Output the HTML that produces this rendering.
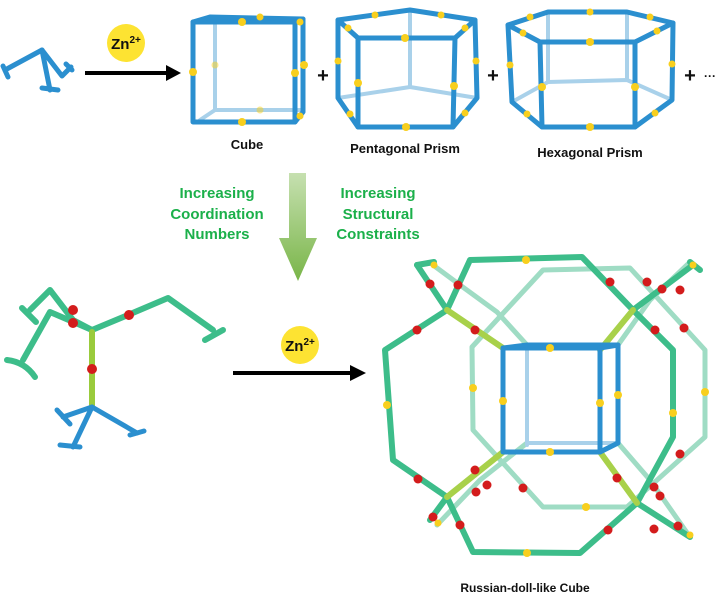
<!DOCTYPE html>
<html><head><meta charset="utf-8"><style>
body{margin:0;background:#fff;width:727px;height:603px;overflow:hidden}
svg{display:block}
text{font-family:"Liberation Sans",Arial,sans-serif;font-weight:bold}
</style></head><body>
<svg width="727" height="603" viewBox="0 0 727 603" xmlns="http://www.w3.org/2000/svg">
<defs>
<linearGradient id="ga" x1="0" y1="0" x2="0" y2="1"><stop offset="0" stop-color="#c6e0b0"/><stop offset="1" stop-color="#79b548"/></linearGradient>
</defs>
<g stroke="#2b8fcf" stroke-width="5" fill="none" stroke-linecap="round" stroke-linejoin="round">
<polyline points="5,70 42,50 50,90"/><polyline points="42,50 62,76 71,67"/>
<line x1="3" y1="66" x2="8" y2="77"/><line x1="42" y1="88" x2="58" y2="90"/><line x1="66" y1="64" x2="72" y2="70"/>
</g>
<circle cx="126" cy="43" r="19" fill="#fde332"/>
<text x="126" y="49" font-size="15" text-anchor="middle" fill="#111">Zn<tspan font-size="10" dy="-6">2+</tspan></text>
<line x1="85" y1="73" x2="168" y2="73" stroke="#000" stroke-width="4"/>
<polygon points="166,65 181,73 166,81" fill="#000"/>
<g fill="none" stroke-linecap="round" stroke-linejoin="round">
<g stroke="#a9d1ea" stroke-width="4"><polyline points="215,25 215,110 303,110"/><line x1="215" y1="110" x2="200" y2="120"/></g>
<g stroke="#2b8fcf" stroke-width="5"><rect x="193" y="22" width="102" height="100"/><polyline points="193,22 210,17 303,19 303,112 295,122"/><line x1="295" y1="22" x2="303" y2="19"/></g>
</g>
<g fill="#f8cf1e"><circle cx="242" cy="22" r="4"/><circle cx="260" cy="17" r="3.5"/><circle cx="193" cy="72" r="4"/><circle cx="295" cy="73" r="4"/><circle cx="304" cy="65" r="4"/><circle cx="242" cy="122" r="4"/><circle cx="300" cy="22" r="3.5"/><circle cx="300" cy="116" r="3.5"/><circle cx="215" cy="65" r="3.5" opacity=".5"/><circle cx="260" cy="110" r="3.5" opacity=".5"/></g>
<text x="247" y="149" font-size="13" text-anchor="middle" fill="#111">Cube</text>
<text x="323" y="82" font-size="20" text-anchor="middle" fill="#111">+</text>
<g fill="none" stroke-linecap="round" stroke-linejoin="round">
<g stroke="#a9d1ea" stroke-width="4"><polyline points="338,98 410,87 477,98"/><line x1="410" y1="10" x2="410" y2="87"/></g>
<g stroke="#2b8fcf" stroke-width="5"><polygon points="338,20 410,10 475,20 455,38 358,38"/><polyline points="338,20 338,98 358,127 453,127 477,98 475,20"/><line x1="358" y1="38" x2="358" y2="127"/><line x1="455" y1="38" x2="453" y2="127"/></g>
</g>
<g fill="#f8cf1e"><circle cx="375" cy="15" r="3.5"/><circle cx="441" cy="15" r="3.5"/><circle cx="405" cy="38" r="4"/><circle cx="348" cy="28" r="3.5"/><circle cx="465" cy="28" r="3.5"/><circle cx="338" cy="61" r="3.5"/><circle cx="476" cy="61" r="3.5"/><circle cx="358" cy="83" r="4"/><circle cx="454" cy="86" r="4"/><circle cx="406" cy="127" r="4"/><circle cx="350" cy="114" r="3.5"/><circle cx="465" cy="113" r="3.5"/></g>
<text x="405" y="153" font-size="13" text-anchor="middle" fill="#111">Pentagonal Prism</text>
<text x="493" y="82" font-size="20" text-anchor="middle" fill="#111">+</text>
<g fill="none" stroke-linecap="round" stroke-linejoin="round">
<g stroke="#a9d1ea" stroke-width="4"><polyline points="512,102 548,82 627,80 672,100"/><line x1="548" y1="12" x2="548" y2="82"/><line x1="627" y1="12" x2="627" y2="80"/></g>
<g stroke="#2b8fcf" stroke-width="5"><polygon points="508,25 548,12 627,12 673,23 635,42 540,42"/><polyline points="508,25 512,102 542,127 635,127 672,100 673,23"/><line x1="540" y1="42" x2="542" y2="127"/><line x1="635" y1="42" x2="635" y2="127"/></g>
</g>
<g fill="#f8cf1e"><circle cx="590" cy="12" r="3.5"/><circle cx="530" cy="17" r="3.5"/><circle cx="650" cy="17" r="3.5"/><circle cx="590" cy="42" r="4"/><circle cx="523" cy="33" r="3.5"/><circle cx="657" cy="31" r="3.5"/><circle cx="510" cy="65" r="3.5"/><circle cx="672" cy="64" r="3.5"/><circle cx="542" cy="87" r="4"/><circle cx="635" cy="87" r="4"/><circle cx="590" cy="127" r="4"/><circle cx="527" cy="114" r="3.5"/><circle cx="655" cy="113" r="3.5"/></g>
<text x="590" y="157" font-size="13" text-anchor="middle" fill="#111">Hexagonal Prism</text>
<text x="690" y="82" font-size="20" text-anchor="middle" fill="#111">+</text>
<text x="710" y="80" font-size="12" text-anchor="middle" fill="#111">···</text>
<g font-size="15" fill="#1bb04a" text-anchor="middle">
<text x="217" y="198">Increasing</text><text x="217" y="219">Coordination</text><text x="217" y="239">Numbers</text>
<text x="378" y="198">Increasing</text><text x="378" y="219">Structural</text><text x="378" y="239">Constraints</text>
</g>
<polygon points="289,173 306,173 306,238 317,238 298,281 279,238 289,238" fill="url(#ga)"/>
<g fill="none" stroke-linecap="round" stroke-linejoin="round">
<g stroke="#3dbd8a" stroke-width="6">
<polyline points="92,330 73,320 50,290 30,310"/><line x1="22" y1="308" x2="36" y2="322"/>
<polyline points="92,330 50,312 23,360"/><path d="M7,360 Q25,362 35,377"/>
<polyline points="92,330 128,315 168,298 213,330"/><line x1="205" y1="340" x2="223" y2="330"/>
</g>
<line x1="92" y1="332" x2="92" y2="407" stroke="#9acb3c" stroke-width="6"/>
<g stroke="#2b8fcf" stroke-width="5"><polyline points="92,407 63,417"/><line x1="57" y1="410" x2="70" y2="424"/><polyline points="92,407 73,447"/><line x1="60" y1="445" x2="80" y2="447"/><polyline points="92,407 137,433"/><line x1="130" y1="435" x2="144" y2="431"/></g>
</g>
<g fill="#d31c1c"><circle cx="73" cy="310" r="5"/><circle cx="73" cy="323" r="5"/><circle cx="129" cy="315" r="5"/><circle cx="92" cy="369" r="5"/></g>
<circle cx="300" cy="345" r="19" fill="#fde332"/>
<text x="300" y="351" font-size="15" text-anchor="middle" fill="#111">Zn<tspan font-size="10" dy="-6">2+</tspan></text>
<line x1="233" y1="373" x2="352" y2="373" stroke="#000" stroke-width="4"/>
<polygon points="350,365 366,373 350,381" fill="#000"/>
<g fill="none" stroke-linecap="round" stroke-linejoin="round">
<g stroke="#9fdcc4" stroke-width="5">
<polygon points="543,270 630,268 705,350 705,437 627,507 543,507 473,430 472,347"/>
<polyline points="433,265 460,285 497,312 527,345"/><polyline points="690,262 650,300 618,345"/>
<polyline points="437,525 480,480 527,443"/><polyline points="690,537 650,480 618,443"/>
</g>
<g stroke="#3dbd8a" stroke-width="6">
<polygon points="470,260 582,257 633,310 673,350 673,437 637,503 580,553 473,552 447,497 393,460 385,350 447,310"/>
<polyline points="417,265 447,310"/><polyline points="693,265 633,310"/>
<polyline points="430,520 447,497"/><polyline points="690,537 637,503"/>
<polyline points="417,265 434,262"/><polyline points="690,262 700,270"/>
</g>
<g stroke="#a8d14a" stroke-width="6"><line x1="447" y1="310" x2="503" y2="348"/><line x1="633" y1="310" x2="600" y2="350"/><line x1="447" y1="497" x2="503" y2="452"/><line x1="637" y1="503" x2="600" y2="452"/></g>
<g stroke="#a9d1ea" stroke-width="4"><polyline points="527,445 527,345"/><polyline points="527,443 618,443"/></g>
<g stroke="#2b8fcf" stroke-width="5"><rect x="503" y="348" width="97" height="104"/><polyline points="503,348 527,345 618,345 618,443 600,452"/><line x1="600" y1="348" x2="618" y2="345"/></g>
</g>
<g fill="#d31c1c">
<circle cx="417" cy="330" r="4.5"/><circle cx="458" cy="285" r="4.5"/><circle cx="430" cy="284" r="4.5"/><circle cx="610" cy="282" r="4.5"/><circle cx="647" cy="282" r="4.5"/><circle cx="662" cy="289" r="4.5"/><circle cx="680" cy="290" r="4.5"/><circle cx="655" cy="330" r="4.5"/><circle cx="684" cy="328" r="4.5"/><circle cx="475" cy="330" r="4.5"/>
<circle cx="418" cy="479" r="4.5"/><circle cx="475" cy="470" r="4.5"/><circle cx="476" cy="492" r="4.5"/><circle cx="487" cy="485" r="4.5"/><circle cx="523" cy="488" r="4.5"/><circle cx="617" cy="478" r="4.5"/><circle cx="654" cy="487" r="4.5"/><circle cx="680" cy="454" r="4.5"/><circle cx="654" cy="529" r="4.5"/><circle cx="608" cy="530" r="4.5"/><circle cx="433" cy="517" r="4.5"/><circle cx="460" cy="525" r="4.5"/><circle cx="660" cy="496" r="4.5"/><circle cx="678" cy="526" r="4.5"/>
</g>
<g fill="#f8cf1e">
<circle cx="526" cy="260" r="4"/><circle cx="387" cy="405" r="4"/><circle cx="473" cy="388" r="4"/><circle cx="673" cy="413" r="4"/><circle cx="705" cy="392" r="4"/><circle cx="527" cy="553" r="4"/><circle cx="586" cy="507" r="4"/><circle cx="550" cy="348" r="4"/><circle cx="550" cy="452" r="4"/><circle cx="503" cy="401" r="4"/><circle cx="600" cy="403" r="4"/><circle cx="618" cy="395" r="4"/><circle cx="434" cy="265" r="3.5"/><circle cx="693" cy="265" r="3.5"/><circle cx="438" cy="523" r="3.5"/><circle cx="690" cy="535" r="3.5"/>
</g>
<text x="525" y="592" font-size="12" text-anchor="middle" fill="#111">Russian-doll-like Cube</text>
</svg>
</body></html>
